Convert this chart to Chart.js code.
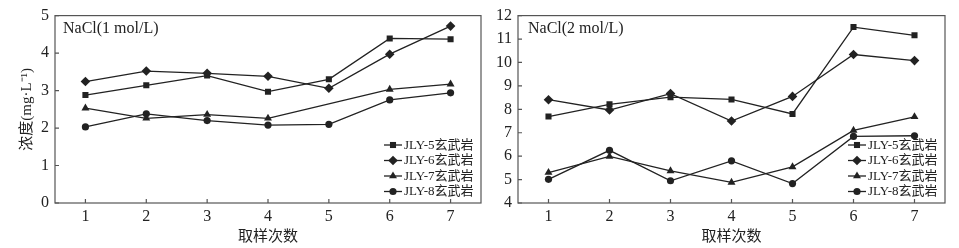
<!DOCTYPE html>
<html>
<head>
<meta charset="utf-8">
<script src="https://cdn.jsdelivr.net/npm/chart.js@4.4.1/dist/chart.umd.min.js"></script>
<style>
	html, body { margin: 0; padding: 0; background: #fff; }
	#wrap { position: relative; width: 959px; height: 248px; }
	#c1 { position: absolute; left: 0; top: 0; }
	#c2 { position: absolute; left: 486px; top: 0; }
</style>
</head>
<body>
<div id="wrap">
	<canvas id="c1" width="486" height="248"></canvas>
	<canvas id="c2" width="473" height="248"></canvas>
</div>
<script>
const samples = ["1", "2", "3", "4", "5", "6", "7"];
const seriesNames = ["JLY-5玄武岩", "JLY-6玄武岩", "JLY-7玄武岩", "JLY-8玄武岩"];
const markers = ["rect", "rectRot", "triangle", "circle"];
const markerSize = [4.3, 4.8, 4.6, 3.6];

// NaCl 1 mol/L
const jly5_1 = [2.88, 3.14, 3.40, 2.97, 3.30, 4.39, 4.37];
const jly6_1 = [3.24, 3.52, 3.46, 3.38, 3.06, 3.97, 4.72];
const jly7_1 = [2.53, 2.26, 2.36, 2.26, null, 3.03, 3.17];
const jly8_1 = [2.03, 2.38, 2.20, 2.08, 2.10, 2.75, 2.94];

// NaCl 2 mol/L
const jly5_2 = [7.69, 8.21, 8.52, 8.42, 7.80, 11.51, 11.16];
const jly6_2 = [8.41, 7.97, 8.67, 7.50, 8.55, 10.34, 10.08];
const jly7_2 = [5.30, 5.99, 5.37, 4.88, 5.54, 7.10, 7.68];
const jly8_2 = [5.01, 6.25, 4.95, 5.80, 4.83, 6.84, 6.87];

const serif = "'Liberation Serif', 'Noto Sans CJK SC', serif";
const ink = "#222";

function makeDatasets(rows) {
	return rows.map((d, i) => ({
		label: seriesNames[i],
		data: d,
		borderColor: ink,
		backgroundColor: ink,
		borderWidth: 1.3,
		pointStyle: markers[i],
		pointRadius: markerSize[i],
		pointHoverRadius: markerSize[i],
		pointBorderWidth: 0,
		spanGaps: true,
		tension: 0,
	}));
}

// box, inward ticks, panel label and legend
const decor = {
	id: "decor",
	afterDraw(chart, args, opts) {
		const c = chart.ctx;
		const a = chart.chartArea;
		c.save();
		c.strokeStyle = "#555";
		c.lineWidth = 1.2;
		c.strokeRect(a.left, a.top, a.right - a.left, a.bottom - a.top);

		const xs = chart.scales.x, ys = chart.scales.y;
		c.beginPath();
		xs.ticks.forEach((t, i) => {
			const px = xs.getPixelForTick(i);
			c.moveTo(px, a.bottom);
			c.lineTo(px, a.bottom - 4);
		});
		ys.ticks.forEach((t, i) => {
			const py = ys.getPixelForTick(i);
			c.moveTo(a.left, py);
			c.lineTo(a.left + 4, py);
		});
		c.stroke();

		c.fillStyle = "#222";
		c.font = "16px " + serif;
		c.textBaseline = "middle";
		c.textAlign = "left";
		c.fillText(opts.label, a.left + opts.labelDx, a.top + 13);

		c.font = "13px " + serif;
		chart.data.datasets.forEach((ds, i) => {
			const y = a.bottom - 58 + i * 15.5;
			const x0 = a.right - 97, x1 = a.right - 79;
			c.strokeStyle = ink;
			c.lineWidth = 1.3;
			c.beginPath();
			c.moveTo(x0, y);
			c.lineTo(x1, y);
			c.stroke();
			c.fillStyle = ink;
			Chart.helpers.drawPoint(c, { pointStyle: ds.pointStyle, radius: ds.pointRadius, borderWidth: 0 }, (x0 + x1) / 2, y);
			c.fillStyle = "#222";
			c.fillText(ds.label, a.right - 77, y + 0.5);
		});
		c.restore();
	},
};

function makeChart(canvasId, rows, yMin, yMax, yTitle, label, yWidth, padRight, labelDx) {
	return new Chart(document.getElementById(canvasId), {
		type: "line",
		data: { labels: samples, datasets: makeDatasets(rows) },
		plugins: [decor],
		options: {
			responsive: false,
			animation: false,
			layout: { padding: { top: 12, right: padRight, left: 0, bottom: 0 } },
			plugins: {
				legend: { display: false },
				tooltip: { enabled: false },
				decor: { label: label, labelDx: labelDx },
			},
			scales: {
				x: {
					offset: true,
					grid: { display: false, drawTicks: false },
					border: { display: false },
					ticks: { color: "#222", font: { family: serif, size: 16 }, padding: 4 },
					title: { display: true, text: "取样次数", color: "#222", font: { family: serif, size: 15 }, padding: { top: 2, bottom: 2 } },
					afterFit(s) { s.height = 45; },
				},
				y: {
					min: yMin,
					max: yMax,
					grid: { display: false, drawTicks: false },
					border: { display: false },
					ticks: { stepSize: 1, color: "#222", font: { family: serif, size: 16 }, padding: 6 },
					title: { display: !!yTitle, text: yTitle, color: "#222", font: { family: serif, size: 15 }, padding: { top: 18, bottom: 0 } },
					afterFit(s) { s.width = yWidth; },
				},
			},
		},
	});
}

makeChart("c1", [jly5_1, jly6_1, jly7_1, jly8_1], 0, 5, "浓度(mg·L⁻¹)", "NaCl(1 mol/L)", 55, 5, 8);
makeChart("c2", [jly5_2, jly6_2, jly7_2, jly8_2], 4, 12, "", "NaCl(2 mol/L)", 32, 14, 10);
</script>
</body>
</html>
